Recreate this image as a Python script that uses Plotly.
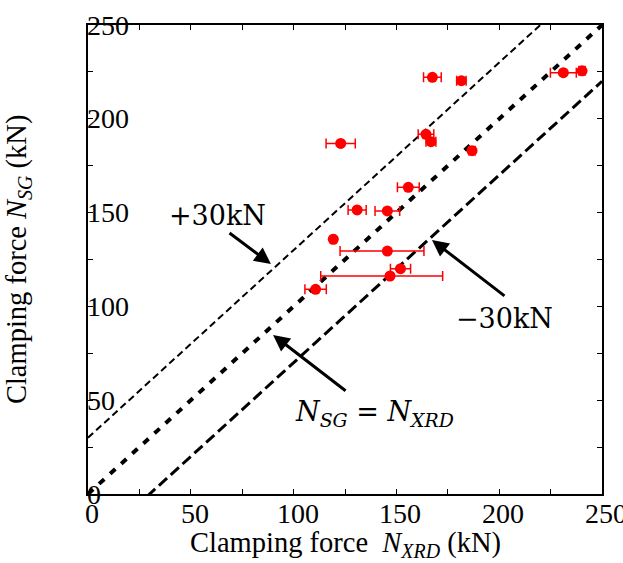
import plotly.graph_objects as go

# ---- data ----
n_xrd = [167.5, 181.6, 231.2, 240.3, 122.9, 164.4, 166.8, 186.8,
         155.8, 130.9, 145.6, 119.3, 145.6, 152.0, 146.9, 110.7]
n_sg = [222.1, 220.3, 224.6, 225.6, 186.9, 191.7, 187.8, 183.0,
        163.5, 151.4, 150.9, 135.8, 129.5, 120.1, 116.2, 109.1]
err_plus = [4.3, 2.3, 6.3, 1.5, 7.1, 3.8, 2.4, 1.5,
            5.3, 4.4, 6.0, 0.8, 17.8, 4.9, 25.6, 5.2]
err_minus = [4.3, 2.3, 6.3, 1.5, 7.1, 3.8, 2.4, 1.5,
             5.3, 4.4, 6.0, 0.8, 23.0, 4.9, 33.7, 5.2]

line_range = [0, 250]
offsets = [30, 0, -30]
tick_major = [0, 50, 100, 150, 200, 250]
tick_labels = ["0", "50", "100", "150", "200", "250"]

SERIF = "Liberation Serif, Times New Roman, serif"
MATH = "DejaVu Serif, serif"

fig = go.Figure()

line_styles = {
    30: dict(color="black", width=2, dash="7px,4px"),
    0: dict(color="black", width=4, dash="7px,8px"),
    -30: dict(color="black", width=3, dash="11px,5px"),
}
for off in offsets:
    xs = [line_range[0], line_range[1]]
    ys = [x + off for x in xs]
    fig.add_trace(go.Scatter(x=xs, y=ys, mode="lines", line=line_styles[off],
                             showlegend=False, hoverinfo="skip", cliponaxis=True))

fig.add_trace(go.Scatter(
    x=n_xrd, y=n_sg, mode="markers",
    marker=dict(color="#ff0000", size=11),
    error_x=dict(type="data", symmetric=False, array=err_plus, arrayminus=err_minus,
                 color="#ff0000", thickness=1.5, width=5),
    showlegend=False))

ann = []
# y tick labels, placed inside at the left axis
for v, t in zip(tick_major, tick_labels):
    ann.append(dict(x=0, y=v, xref="x", yref="y", text=t, showarrow=False,
                    xanchor="left", yanchor="middle", xshift=-3,
                    font=dict(family=SERIF, size=28, color="black")))
# x tick labels below the axis
for v, t in zip(tick_major, tick_labels):
    ann.append(dict(x=v, y=0, xref="x", yref="y", text=t, showarrow=False,
                    xanchor="center", yanchor="top", yshift=-2, xshift=4,
                    font=dict(family=SERIF, size=28, color="black")))

# axis titles
ann.append(dict(x=0.5, y=-0.108, xref="paper", yref="paper", showarrow=False,
                text="Clamping force  <i>N</i><sub><i>XRD</i></sub> (kN)",
                xanchor="center", yanchor="middle",
                font=dict(family=SERIF, size=28.5, color="black")))
ann.append(dict(x=-0.135, y=0.5, xref="paper", yref="paper", showarrow=False,
                text="Clamping force <i>N</i><sub><i>SG</i></sub> (kN)", textangle=-90,
                xanchor="center", yanchor="middle",
                font=dict(family=SERIF, size=28.5, color="black")))

# labels on the guide lines
ann.append(dict(x=63, y=148.5, xref="x", yref="y", text="+30kN", showarrow=False,
                font=dict(family=MATH, size=27, color="black")))
ann.append(dict(x=202.5, y=93.5, xref="x", yref="y", text="\u221230kN", showarrow=False,
                font=dict(family=MATH, size=27, color="black")))
ann.append(dict(x=139.5, y=43, xref="x", yref="y",
                text="<i>N</i><sub><i>SG</i></sub> = <i>N</i><sub><i>XRD</i></sub>",
                showarrow=False, font=dict(family=MATH, size=27, color="black")))

# arrows
arrows = [((89.0, 122.6), (68.1, 139.7)),
          ((167.3, 135.4), (203.3, 105.0)),
          ((90.0, 84.8), (126.0, 54.4))]
for (hx, hy), (tx, ty) in arrows:
    ann.append(dict(x=hx, y=hy, ax=tx, ay=ty, xref="x", yref="y", axref="x", ayref="y",
                    text="", showarrow=True, arrowhead=2, arrowsize=1.1,
                    arrowwidth=3, arrowcolor="black"))

axis_common = dict(range=[0, 250], dtick=25, tick0=0, ticks="inside", ticklen=5,
                   tickwidth=1.3, tickcolor="black", showline=True, linecolor="black",
                   linewidth=1.5, mirror="ticks", showgrid=False, zeroline=False,
                   showticklabels=False, fixedrange=True)

fig.update_layout(
    width=623, height=563,
    margin=dict(l=88, r=21, t=25, b=69),
    paper_bgcolor="white", plot_bgcolor="white",
    xaxis=axis_common, yaxis=axis_common,
    annotations=ann,
    showlegend=False,
)

fig.write_html("out.html")
